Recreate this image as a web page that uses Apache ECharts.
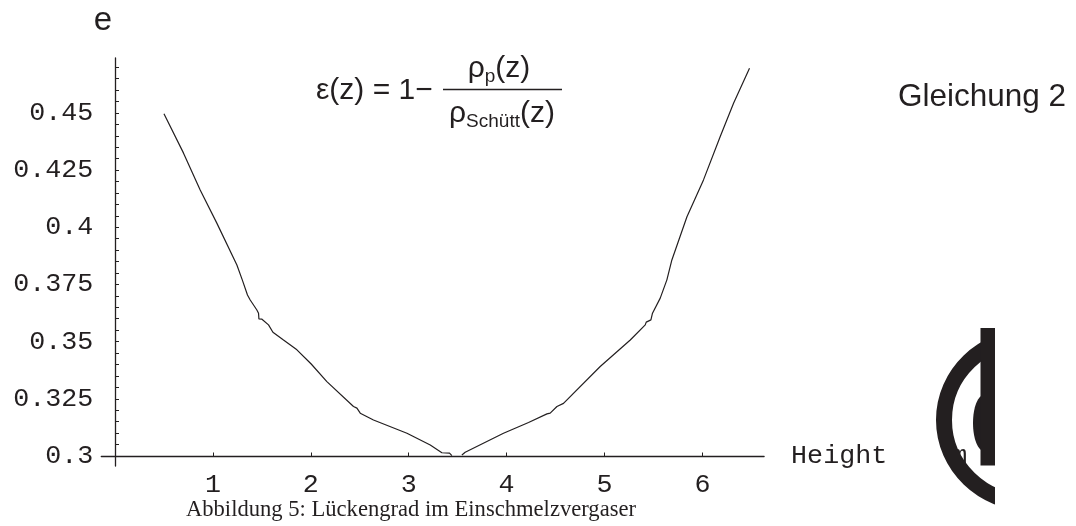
<!DOCTYPE html>
<html>
<head>
<meta charset="utf-8">
<script src="https://cdn.jsdelivr.net/npm/echarts@6/dist/echarts.min.js"></script>
<style>html,body{margin:0;padding:0;background:#fff}#c{width:1076px;height:526px}</style>
</head>
<body>
<div id="c"></div>
<script>
// Data: [height, voidage]
var leftBranch = [
  [0.50,0.4496],[0.70,0.4324],[0.87,0.4163],[1.04,0.4018],[1.245,0.3835],[1.30,0.3770],
  [1.353,0.3704],[1.381,0.3682],[1.449,0.3638],[1.466,0.3624],[1.470,0.3599],[1.501,0.3598],
  [1.568,0.3573],[1.613,0.3541],[1.721,0.3507],[1.858,0.3464],[2.004,0.3402],[2.164,0.3325],
  [2.436,0.3216],[2.471,0.3209],[2.505,0.3187],[2.640,0.3157],[2.982,0.3099],[3.220,0.3048],
  [3.339,0.3014],[3.417,0.3012],[3.441,0.3001]
];
var rightBranch = [
  [3.543,0.3004],[3.577,0.3016],[3.968,0.3099],[4.224,0.3146],[4.412,0.3184],[4.445,0.3187],
  [4.514,0.3216],[4.581,0.3230],[4.956,0.3391],[5.263,0.3507],[5.416,0.3573],[5.426,0.3585],
  [5.474,0.3595],[5.490,0.3624],[5.569,0.3690],[5.637,0.3770],[5.688,0.3857],[5.842,0.4046],
  [6.011,0.4207],[6.181,0.4396],[6.318,0.4542],[6.481,0.4695]
];
var xTickLabels = [1,2,3,4,5,6];
var yTickLabels = [0.3,0.325,0.35,0.375,0.4,0.425,0.45];
var yTicks = [0.3,0.305,0.31,0.315,0.32,0.325,0.33,0.335,0.34,0.345,0.35,0.355,0.36,0.365,0.37,0.375,
  0.38,0.385,0.39,0.395,0.4,0.405,0.41,0.415,0.42,0.425,0.43,0.435,0.44,0.445,0.45,0.455,0.46,0.465,0.47];

var ink = '#231f20';
var mono = '"Liberation Mono", "DejaVu Sans Mono", monospace';
var sans = '"Liberation Sans", Arial, sans-serif';
var serif = '"Liberation Serif", "Times New Roman", serif';

var chart = echarts.init(document.getElementById('c'), null, {renderer:'canvas'});
chart.setOption({
  animation: false,
  backgroundColor: '#fff',
  grid: {left: 101.3, right: 311.9, top: 58, bottom: 60, containLabel: false},
  xAxis: {
    type: 'value', min: -0.14, max: 6.63, offset: -10,
    name: 'Height    m', nameLocation: 'end', nameGap: 27,
    nameTextStyle: {fontFamily: mono, fontSize: 26.7, color: ink, verticalAlign: 'middle'},
    axisLine: {onZero: false, lineStyle: {color: ink, width: 1.3}},
    axisTick: {show: true, inside: true, length: 3.5, customValues: xTickLabels, lineStyle: {color: ink, width: 1}},
    axisLabel: {customValues: xTickLabels, fontFamily: mono, fontSize: 26.7, color: ink, margin: 15},
    splitLine: {show: false}
  },
  yAxis: {
    type: 'value', min: 0.2956, max: 0.474,
    name: 'e', nameLocation: 'end', nameGap: 21,
    nameTextStyle: {fontFamily: sans, fontSize: 33, color: ink, padding: [0, 24, 0, 0]},
    axisLine: {onZero: true, lineStyle: {color: ink, width: 1.3}},
    axisTick: {show: true, inside: true, length: 4, customValues: yTicks, lineStyle: {color: ink, width: 1}},
    axisLabel: {customValues: yTickLabels, fontFamily: mono, fontSize: 26.7, color: ink, margin: 8},
    splitLine: {show: false}
  },
  series: [
    {type: 'line', data: leftBranch, showSymbol: false, symbol: 'none', lineStyle: {color: ink, width: 1.2}},
    {type: 'line', data: rightBranch, showSymbol: false, symbol: 'none', lineStyle: {color: ink, width: 1.2}}
  ],
  graphic: [
    {type: 'text', x: 316, y: 91, z: 100, style: {text: 'ε(z) = 1−', font: '30px ' + sans, fill: ink,
      textAlign: 'left', textVerticalAlign: 'middle', align: 'left', verticalAlign: 'middle'}},
    {type: 'line', z: 100, shape: {x1: 443, y1: 89.5, x2: 562, y2: 89.5}, style: {stroke: ink, lineWidth: 1.5}},
    {type: 'text', x: 499, y: 69, z: 100, style: {text: '{a|ρ}{b|p}{a|(z)}', fill: ink,
      textAlign: 'center', textVerticalAlign: 'middle', align: 'center', verticalAlign: 'middle',
      rich: {a: {fontFamily: sans, fontSize: 30, lineHeight: 34, fill: ink, color: ink},
             b: {fontFamily: sans, fontSize: 19, lineHeight: 19, verticalAlign: 'bottom', fill: ink, color: ink}}}},
    {type: 'text', x: 502, y: 114, z: 100, style: {text: '{a|ρ}{b|Schütt}{a|(z)}', fill: ink,
      textAlign: 'center', textVerticalAlign: 'middle', align: 'center', verticalAlign: 'middle',
      rich: {a: {fontFamily: sans, fontSize: 30, lineHeight: 34, fill: ink, color: ink},
             b: {fontFamily: sans, fontSize: 19, lineHeight: 19, verticalAlign: 'bottom', fill: ink, color: ink}}}},
    {type: 'text', x: 898, y: 97, z: 100, style: {text: 'Gleichung 2', font: '31.5px ' + sans, fill: ink,
      textAlign: 'left', textVerticalAlign: 'middle', align: 'left', verticalAlign: 'middle'}},
    {type: 'text', x: 411, y: 510, z: 100, style: {text: 'Abbildung 5: Lückengrad im Einschmelzvergaser', font: '22.6px ' + serif, fill: ink,
      textAlign: 'center', textVerticalAlign: 'middle', align: 'center', verticalAlign: 'middle'}},
    // large clipped glyph shape at right
    {type: 'ellipse', z: 100, shape: {cx: 1030, cy: 420, rx: 86, ry: 83}, style: {fill: null, stroke: ink, lineWidth: 16}},
    {type: 'ellipse', z: 101, shape: {cx: 984, cy: 423, rx: 11, ry: 28}, style: {fill: ink}},
    {type: 'rect', z: 101, shape: {x: 980.5, y: 328, width: 20, height: 137.5}, style: {fill: ink}},
    {type: 'rect', z: 102, shape: {x: 995, y: 300, width: 90, height: 226}, style: {fill: '#fff'}}
  ]
});
</script>
</body>
</html>
